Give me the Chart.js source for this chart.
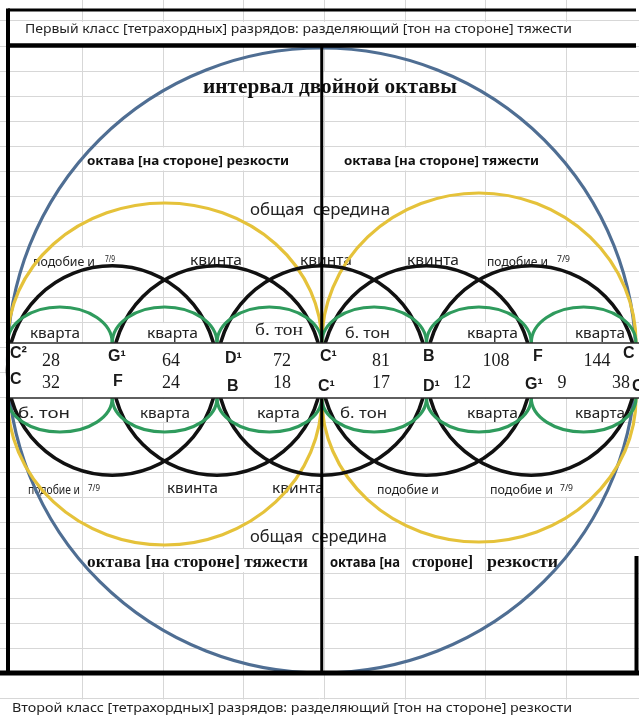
<!DOCTYPE html>
<html><head><meta charset="utf-8">
<script src="https://cdn.jsdelivr.net/npm/chart.js@4.4.1/dist/chart.umd.min.js"></script>
<style>html,body{margin:0;padding:0;background:#fff;overflow:hidden}canvas{display:block}</style>
</head><body>
<canvas id="c" width="639" height="715"></canvas>
<script>
// ---------------- DATA ----------------
const notesTop = ['C²', 'G¹', 'D¹', 'C¹', 'B', 'F', 'C'];
const notesBottom = ['C', 'F', 'B', 'C¹', 'D¹', 'G¹', 'C'];
const ratiosTop = [28, 64, 72, 81, 108, 144];
const ratiosBottom = [32, 24, 18, 17, 12, 9, 38];
const intervalsTop = ['кварта', 'кварта', 'б. тон', 'б. тон', 'кварта', 'кварта'];
const intervalsBottom = ['б. тон', 'кварта', 'карта', 'б. тон', 'кварта', 'кварта'];
const fourthSpans = [[0, 1], [1, 2], [2, 3], [3, 4], [4, 5], [5, 6]];
const fifthSpans = [[0, 2], [1, 3], [2, 4], [3, 5], [4, 6]];
const fifthLabelsTop = ['подобие и', 'квинта', 'квинта', 'квинта', 'подобие и'];
const fifthFracTop = ['7/9', '', '', '', '7/9'];
const fifthLabelsBottom = ['подобие и', 'квинта', 'квинта', 'подобие и', 'подобие и'];
const fifthFracBottom = ['7/9', '', '', '', '7/9'];
const octaveSpans = [[0, 3], [3, 6]];
const octaveLabelsTop = ['октава [на стороне] резкости', 'октава [на стороне] тяжести'];
const octaveLabelsBottom = ['октава [на стороне] тяжести', 'октава [на  стороне]  резкости'];
const middleLabel = 'общая  середина';
const doubleOctaveSpan = [0, 6];
const doubleOctaveLabel = 'интервал двойной октавы';
const headerText = 'Первый класс [тетрахордных] разрядов: разделяющий [тон на стороне] тяжести';
const footerText = 'Второй класс [тетрахордных] разрядов: разделяющий [тон на стороне] резкости';

// ---------------- LAYOUT (pixel helpers -> data units) ----------------
const X0 = 7.5, DX = 104.75;      // note 0 position and width of one note step
const Y0 = 46, DY = 25.1;         // spreadsheet row 0 line and row height
const C0 = 1.6, DC = 80.7;        // spreadsheet column lines
const N = p => (p - X0) / DX;
const R = p => (p - Y0) / DY;

const GEOM = {
  bandTop: R(343), bandBottom: R(398), bandMid: R(370.5),
  blue: { cy: R(360.5), ry: 312.5 / DY },
  yellowUp: [140 / DY, 150 / DY], yellowDown: [147 / DY, 144 / DY],
  greenUp: 36 / DY, greenDown: 34 / DY
};

const FONT = {
  hdr: '13px "Noto Sans"', title: 'bold 20px "Liberation Serif"',
  octTop: 'bold 13px "Noto Sans"', mid: '16px "Noto Sans"',
  small: '12px "Noto Sans"', frac: '9px "Noto Sans"', lab: '15px "Noto Sans"',
  labSerif: '17px "Liberation Serif"', octBot: 'bold 16px "Liberation Serif"',
  octBotSans: 'bold 15px "Noto Sans"', note: 'bold 16px "Liberation Sans"', num: '18px "Liberation Serif"'
};

const POS = {
  header: [25, 572, 33], footer: [12, 572, 712], title: [203, 457, 93],
  octTop: [[87, 289], [344, 539]], octTopBase: 165,
  midTop: [250, 390, 215], midBottom: [250, 387, 542],
  fifthTop: [[33, 95], [190, 242], [300, 352], [407, 459], [487, 548]], fifthTopBase: 265,
  fracTop: [[105, 115], null, null, null, [557, 570]], fracTopBase: 262,
  fifthBottom: [[28, 80], [167, 218], [272, 324], [377, 439], [490, 553]], fifthBottomBase: 494,
  fracBottom: [[88, 100], null, null, null, [560, 573]], fracBottomBase: 491,
  intTop: [[30, 80], [147, 198], [255, 303], [345, 390], [467, 518], [575, 625]], intTopBase: 338,
  intBottom: [[18, 70], [140, 190], [257, 300], [340, 387], [467, 518], [575, 625]], intBottomBase: 418,
  octBottom0: [87, 308], octBottom1: [[330, 400], [412, 473], [487, 558]], octBottomBase: 567,
  noteTop: [[10, 358], [108, 361], [225, 363], [320, 361], [423, 361], [533, 361], [623, 358]],
  noteBottom: [[10, 384], [113, 386], [227, 391], [318, 391], [423, 391], [525, 389], [632, 391]],
  numTop: [51, 171, 282, 381, 496, 597], numTopBase: 366,
  numBottom: [51, 171, 282, 381, 462, 562, 621], numBottomBase: 388
};

const COL = { grid: '#d7d7d7', blue: '#4f6e93', yellow: '#e5c23a', black: '#111111', green: '#2f9b5d', text: '#1a1a1a' };

// ---------------- DRAWING PLUGIN ----------------
const diagram = {
  id: 'diagram',
  beforeDraw(chart) {
    const c = chart.ctx; c.save(); c.fillStyle = '#fff'; c.fillRect(0, 0, chart.width, chart.height); c.restore();
  },
  beforeDatasetsDraw(chart) {
    const c = chart.ctx, xs = chart.scales.x, ys = chart.scales.y;
    const px = v => xs.getPixelForValue(v), py = v => ys.getPixelForValue(v);
    const hx = p => px(N(p)), hy = p => py(R(p));
    const unit = px(1) - px(0);
    const rowsY = v => Math.abs(py(v) - py(0));

    function fit(s, x0, x1, base, font, color, bg) {
      const X0p = hx(x0), X1p = hx(x1), B = hy(base);
      if (bg) {
        const row = Math.floor(R(base - 3));
        c.save(); c.fillStyle = '#fff';
        c.fillRect(X0p - 1, py(row) + 1, X1p - X0p + 2, py(row + 1) - py(row) - 2);
        c.restore();
      }
      c.save(); c.font = font; c.fillStyle = color || COL.text; c.textBaseline = 'alphabetic'; c.textAlign = 'left';
      const m = c.measureText(s).width;
      c.translate(X0p, B); c.scale((X1p - X0p) / m, 1); c.fillText(s, 0, 0); c.restore();
    }
    function plain(s, x, base, font, align) {
      c.save(); c.font = font; c.fillStyle = COL.text; c.textBaseline = 'alphabetic'; c.textAlign = align || 'left';
      c.fillText(s, hx(x), hy(base)); c.restore();
    }
    function ell(cx, cy, rx, ry, a0, a1, color, lw) {
      c.save(); c.beginPath(); c.ellipse(cx, cy, rx, ry, 0, a0, a1);
      c.strokeStyle = color; c.lineWidth = lw; c.stroke(); c.restore();
    }
    function line(x0, y0, x1, y1, color, lw) {
      c.save(); c.beginPath(); c.moveTo(x0, y0); c.lineTo(x1, y1);
      c.strokeStyle = color; c.lineWidth = lw; c.lineCap = 'butt'; c.stroke(); c.restore();
    }

    // cell texts (hide grid under them)
    fit(headerText, POS.header[0], POS.header[1], POS.header[2], FONT.hdr, '#222', true);
    fit(footerText, POS.footer[0], POS.footer[1], POS.footer[2], FONT.hdr, '#222', true);
    fit(doubleOctaveLabel, POS.title[0], POS.title[1], POS.title[2], FONT.title, '#111', true);
    octaveLabelsTop.forEach((s, i) => fit(s, POS.octTop[i][0], POS.octTop[i][1], POS.octTopBase, FONT.octTop, '#111', true));
    fit(middleLabel, POS.midTop[0], POS.midTop[1], POS.midTop[2], FONT.mid, '#222', true);
    fit(middleLabel, POS.midBottom[0], POS.midBottom[1], POS.midBottom[2], FONT.mid, '#222', true);
    fifthLabelsTop.forEach((s, i) => {
      const isSmall = s !== 'квинта';
      fit(s, POS.fifthTop[i][0], POS.fifthTop[i][1], POS.fifthTopBase + (isSmall ? 1 : 0), isSmall ? FONT.small : FONT.lab, '#222', true);
      if (fifthFracTop[i]) fit(fifthFracTop[i], POS.fracTop[i][0], POS.fracTop[i][1], POS.fracTopBase, FONT.frac, '#222', true);
    });
    fifthLabelsBottom.forEach((s, i) => {
      const isSmall = s !== 'квинта';
      fit(s, POS.fifthBottom[i][0], POS.fifthBottom[i][1], POS.fifthBottomBase - (isSmall ? 0 : 1), isSmall ? FONT.small : FONT.lab, '#222', true);
      if (fifthFracBottom[i]) fit(fifthFracBottom[i], POS.fracBottom[i][0], POS.fracBottom[i][1], POS.fracBottomBase, FONT.frac, '#222', true);
    });
    intervalsTop.forEach((s, i) => {
      const serif = i === 2;
      fit(s, POS.intTop[i][0], POS.intTop[i][1], POS.intTopBase - (serif ? 3 : 0), serif ? FONT.labSerif : FONT.lab, '#222', true);
    });
    intervalsBottom.forEach((s, i) => fit(s, POS.intBottom[i][0], POS.intBottom[i][1], POS.intBottomBase, FONT.lab, '#222', true));
    fit(octaveLabelsBottom[0], POS.octBottom0[0], POS.octBottom0[1], POS.octBottomBase, FONT.octBot, '#111', true);
    octaveLabelsBottom[1].split(/\s{2,}/).forEach((s, i) => {
      const r = POS.octBottom1[i];
      fit(s, r[0], r[1], POS.octBottomBase, i === 0 ? FONT.octBotSans : FONT.octBot, '#111', true);
    });

    // double octave circle (blue)
    const bcx = px((doubleOctaveSpan[0] + doubleOctaveSpan[1]) / 2);
    ell(bcx, py(GEOM.blue.cy), unit * (doubleOctaveSpan[1] - doubleOctaveSpan[0]) / 2, rowsY(GEOM.blue.ry), 0, Math.PI * 2, COL.blue, 3.2);

    // octave arcs (yellow)
    octaveSpans.forEach((sp, i) => {
      const cx = px((sp[0] + sp[1]) / 2), rx = unit * (sp[1] - sp[0]) / 2;
      ell(cx, py(GEOM.bandTop), rx, rowsY(GEOM.yellowUp[i]), Math.PI, Math.PI * 2, COL.yellow, 3.2);
      ell(cx, py(GEOM.bandBottom), rx, rowsY(GEOM.yellowDown[i]), 0, Math.PI, COL.yellow, 3.2);
    });

    // fifth circles (black)
    fifthSpans.forEach(sp => {
      const cx = px((sp[0] + sp[1]) / 2), r = unit * (sp[1] - sp[0]) / 2;
      ell(cx, py(GEOM.bandMid), r, r, 0, Math.PI * 2, COL.black, 3.6);
    });

    // fourth / tone arcs (green)
    fourthSpans.forEach(sp => {
      const cx = px((sp[0] + sp[1]) / 2), rx = unit * (sp[1] - sp[0]) / 2;
      ell(cx, py(GEOM.bandTop), rx, rowsY(GEOM.greenUp), Math.PI, Math.PI * 2, COL.green, 3.2);
      ell(cx, py(GEOM.bandBottom), rx, rowsY(GEOM.greenDown), 0, Math.PI, COL.green, 3.2);
    });

    // central divider
    line(px(3), hy(46), px(3), hy(673), '#000', 3);

    // band of notes and numbers
    c.save(); c.fillStyle = '#fff';
    c.fillRect(px(0), py(GEOM.bandTop), hx(639) - px(0), py(GEOM.bandBottom) - py(GEOM.bandTop));
    c.restore();
    line(px(0), py(GEOM.bandTop), hx(639), py(GEOM.bandTop), '#2a2a2a', 1.6);
    line(px(0), py(GEOM.bandBottom), hx(639), py(GEOM.bandBottom), '#2a2a2a', 1.6);
    notesTop.forEach((s, i) => plain(s, POS.noteTop[i][0], POS.noteTop[i][1], FONT.note));
    notesBottom.forEach((s, i) => plain(s, POS.noteBottom[i][0], POS.noteBottom[i][1], FONT.note));
    ratiosTop.forEach((v, i) => plain(String(v), POS.numTop[i], POS.numTopBase, FONT.num, 'center'));
    ratiosBottom.forEach((v, i) => plain(String(v), POS.numBottom[i], POS.numBottomBase, FONT.num, 'center'));

    // sheet borders
    line(hx(8), hy(10), hx(636), hy(10), '#000', 3);
    line(hx(6), hy(45.5), hx(636), hy(45.5), '#000', 4.5);
    line(hx(8), hy(8.5), hx(8), hy(675), '#000', 4);
    line(hx(0), hy(673), hx(639), hy(673), '#000', 5);
    line(hx(636.5), hy(556), hx(636.5), hy(675), '#000', 4);
  }
};

// ---------------- CHART ----------------
const gridScale = (extra) => Object.assign({
  display: true,
  ticks: { display: false },
  grid: { color: COL.grid, lineWidth: 1, drawTicks: false },
  border: { display: false }
}, extra);

new Chart(document.getElementById('c').getContext('2d'), {
  type: 'scatter',
  data: {
    datasets: [
      { label: 'Первый класс', data: notesTop.map((n, i) => ({ x: i, y: GEOM.bandTop })), pointRadius: 0, showLine: false },
      { label: 'Второй класс', data: notesBottom.map((n, i) => ({ x: i, y: GEOM.bandBottom })), pointRadius: 0, showLine: false }
    ]
  },
  options: {
    responsive: false, animation: false, devicePixelRatio: 1,
    layout: { padding: 0 },
    plugins: { legend: { display: false }, tooltip: { enabled: false }, title: { display: false } },
    scales: {
      x: { type: 'linear', min: N(0), max: N(639), display: false },
      cols: gridScale({
        type: 'linear', axis: 'x', position: 'top', min: (0 - C0) / DC, max: (639 - C0) / DC,
        afterBuildTicks: s => { const t = []; for (let k = 1; k <= 7; k++) t.push({ value: k }); s.ticks = t; }
      }),
      y: gridScale({
        type: 'linear', reverse: true, min: R(0), max: R(715),
        afterBuildTicks: s => { const t = []; for (let k = -1; k <= 26; k++) t.push({ value: k }); s.ticks = t; }
      })
    }
  },
  plugins: [diagram]
});
</script>
</body></html>
